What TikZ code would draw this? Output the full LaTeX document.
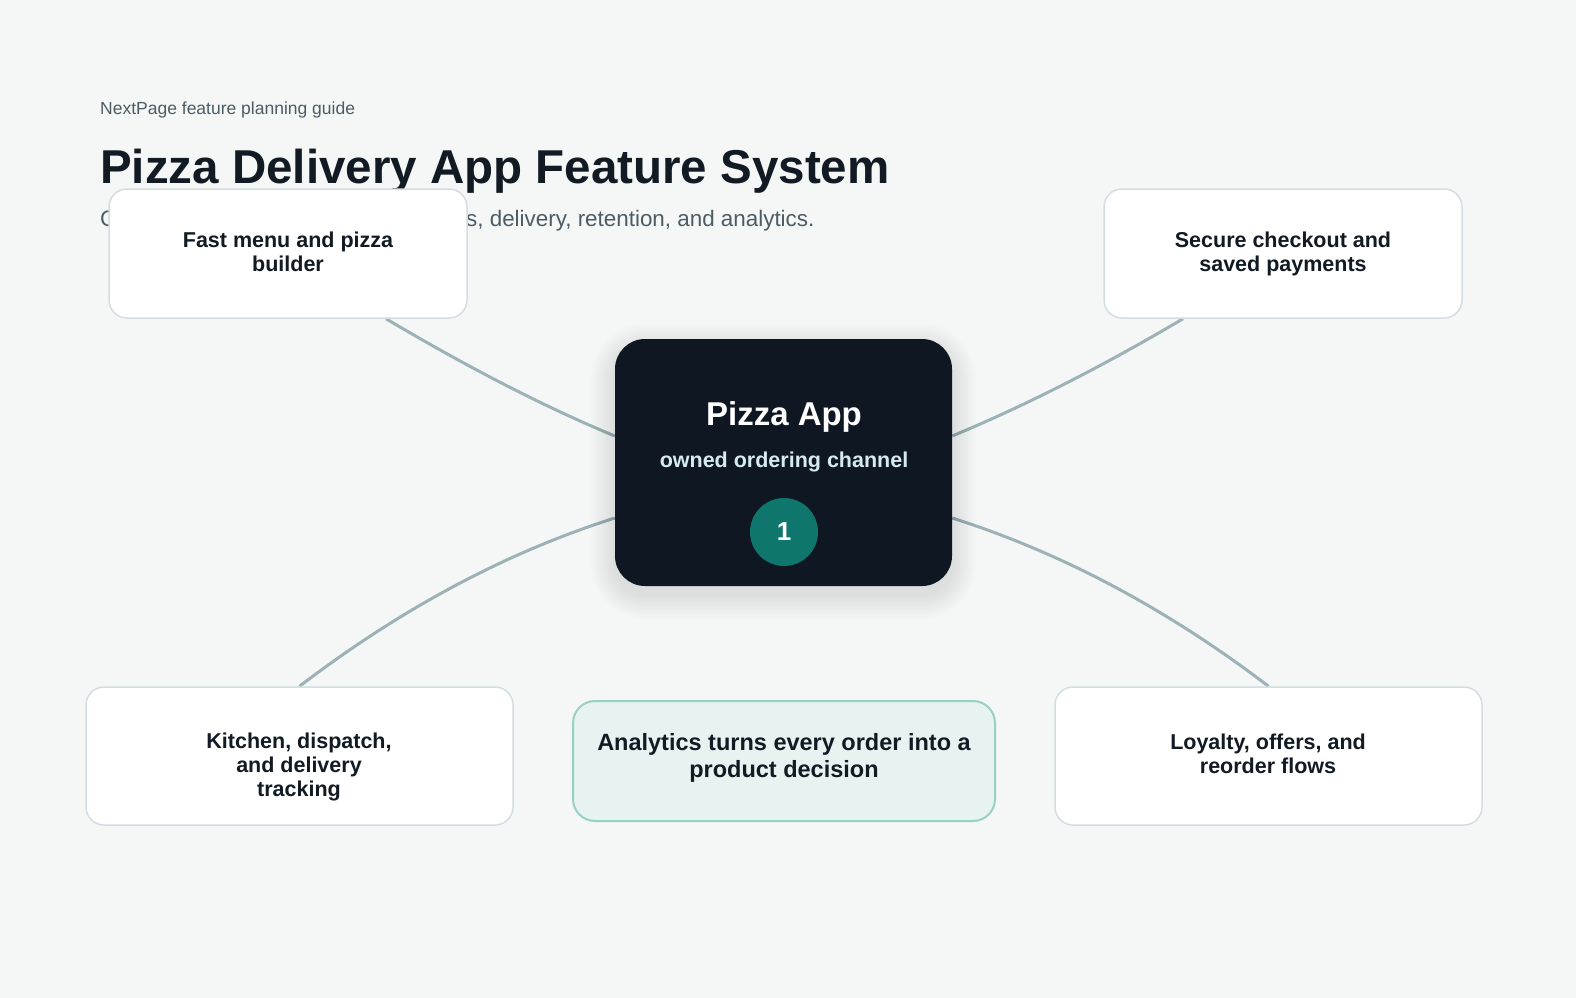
\documentclass[tikz,border=0pt]{standalone}
\usepackage{fontspec}
\setmainfont{Liberation Sans}
\usepackage{tikz}
\usetikzlibrary{backgrounds}

\definecolor{pagebg}{HTML}{F5F7F6}
\definecolor{ink}{HTML}{121A23}
\definecolor{muted}{HTML}{4D5B65}
\definecolor{cardline}{HTML}{D3DDE2}
\definecolor{linkline}{HTML}{9DB2B7}
\definecolor{hubfill}{HTML}{0F1723}
\definecolor{hubtint}{HTML}{D5EBEE}
\definecolor{badgefill}{HTML}{0F766E}
\definecolor{notefill}{HTML}{E7F3F1}
\definecolor{noteline}{HTML}{98D0C7}

\tikzset{
  card/.style={draw=cardline, line width=1.5pt, fill=white, rounded corners=18pt, inner sep=0pt},
  cardtext/.style={anchor=base, align=center, inner sep=0pt, text=ink, font=\fontsize{21.5}{24}\selectfont\bfseries},
  headtext/.style={anchor=base west, inner sep=0pt},
  link/.style={draw=linkline, line width=3pt},
}

\begin{document}
\begin{tikzpicture}[x=1pt, y=-1pt]

\useasboundingbox (0,0) rectangle (1576,998);
\begin{scope}[on background layer]
\fill[pagebg] (0,0) rectangle (1576,998);
\end{scope}

\node[headtext, text=muted, font=\fontsize{17.5}{20}\selectfont] (tag) at (100,114) {NextPage feature planning guide};
\node[headtext, text=ink, font=\fontsize{47.5}{52}\selectfont\bfseries] (title) at (100,183) {Pizza Delivery App Feature System};
\node[headtext, text=muted, font=\fontsize{22.4}{26}\selectfont] (subtitle) at (100,226) {Core journeys for browsing, payments, delivery, retention, and analytics.};

\node[card, minimum width=358pt, minimum height=129pt] (menu) at (288,253.5) {};
\node[card, minimum width=358pt, minimum height=129pt] (checkout) at (1283,253.5) {};
\node[card, minimum width=427pt, minimum height=138pt] (kitchen) at (299.5,756) {};
\node[card, minimum width=427pt, minimum height=138pt] (loyalty) at (1268.5,756) {};

\node[cardtext] (menutext) at (288,271) {Fast menu and pizza\\builder};
\node[cardtext] (checkouttext) at (1283,271) {Secure checkout and\\saved payments};
\node[cardtext] (kitchentext) at (299,796) {Kitchen, dispatch,\\and delivery\\tracking};
\node[cardtext] (loyaltytext) at (1268,773) {Loyalty, offers, and\\reorder flows};

% soft shadow under the hub
\foreach \g in {2,4,...,24}
  \fill[black, opacity=0.008, rounded corners={(30+\g)*1pt}] (615-\g,339-\g+9) rectangle (952+\g,586+\g+9);

\node[fill=hubfill, rounded corners=30pt, minimum width=337pt, minimum height=247pt] (hub) at (783.5,462.5) {};
\node[anchor=base, inner sep=0pt, text=white, font=\fontsize{33}{36}\selectfont\bfseries] (hubtitle) at (784,425) {Pizza App};
\node[anchor=base, inner sep=0pt, text=hubtint, font=\fontsize{21.5}{24}\selectfont\bfseries] (hubnote) at (784,467) {owned ordering channel};
\node[circle, fill=badgefill, minimum size=68pt, inner sep=0pt, text=white, font=\fontsize{26}{28}\selectfont\bfseries] (badge) at (784,532) {1};

\node[draw=noteline, line width=2pt, fill=notefill, rounded corners=22pt, minimum width=422pt, minimum height=120pt] (note) at (784,761) {};
\node[anchor=base, align=center, inner sep=0pt, text=ink, font=\fontsize{23.5}{27}\selectfont\bfseries] (notetext) at (784,777) {Analytics turns every order into a\\product decision};

\begin{scope}[on background layer]
\draw[link] ([yshift=26.5pt]hub.west) .. controls +(-77,-32) and +(76,45) .. ([xshift=98pt]menu.south);
\draw[link] ([yshift=26.5pt]hub.east) .. controls +(77,-32) and +(-76,45) .. ([xshift=-100pt]checkout.south);
\draw[link] ([yshift=-55.5pt]hub.west) .. controls +(-110,35) and +(101,-77) .. (kitchen.north);
\draw[link] ([yshift=-55.5pt]hub.east) .. controls +(110,35) and +(-101,-77) .. (loyalty.north);
\end{scope}

\end{tikzpicture}
\end{document}
